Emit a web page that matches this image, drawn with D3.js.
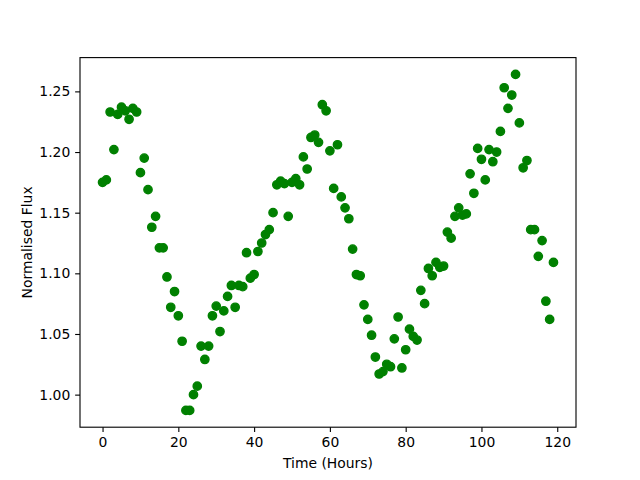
<!DOCTYPE html>
<html>
<head>
<meta charset="utf-8">
<script src="https://cdn.jsdelivr.net/npm/d3@7"></script>
<style>
  body { margin: 0; background: #fff; }
  text { font-family: "DejaVu Sans", sans-serif; }
</style>
</head>
<body>
<div id="vis"></div>
<script>
// data: hourly normalised flux readings
const hours = d3.range(0, 120);
const flux = [
  1.175, 1.177, 1.233, 1.202, 1.231, 1.237, 1.234, 1.227, 1.236, 1.233,
  1.183, 1.195, 1.169, 1.138, 1.147, 1.121, 1.121, 1.097, 1.072, 1.085,
  1.065, 1.044, 0.987, 0.987, 1.000, 1.007, 1.040, 1.029, 1.040, 1.065,
  1.073, 1.052, 1.069, 1.081, 1.090, 1.072, 1.090, 1.089, 1.117, 1.096,
  1.099, 1.118, 1.125, 1.132, 1.136, 1.150, 1.173, 1.176, 1.174, 1.147,
  1.175, 1.178, 1.173, 1.196, 1.186, 1.212, 1.214, 1.208, 1.239, 1.234,
  1.201, 1.170, 1.206, 1.163, 1.154, 1.145, 1.120, 1.099, 1.098, 1.074,
  1.062, 1.049, 1.031, 1.017, 1.019, 1.025, 1.023, 1.046, 1.064, 1.022,
  1.037, 1.054, 1.048, 1.045, 1.086, 1.075, 1.104, 1.098, 1.109, 1.105,
  1.106, 1.134, 1.129, 1.147, 1.154, 1.148, 1.149, 1.182, 1.166, 1.203,
  1.194, 1.177, 1.202, 1.192, 1.200, 1.217, 1.253, 1.236, 1.247, 1.264,
  1.224, 1.187, 1.193, 1.136, 1.136, 1.114, 1.127, 1.077, 1.062, 1.109
];
const xTicks = [0, 20, 40, 60, 80, 100, 120];
const yTicks = [1.00, 1.05, 1.10, 1.15, 1.20, 1.25];

// matplotlib-like figure layout
const margin = { top: 57.6, right: 64, bottom: 52.8, left: 80 };
const width = 640 - margin.left - margin.right;
const height = 480 - margin.top - margin.bottom;
const pt = 100 / 72;

const svg = d3.select("#vis")
  .append("svg")
    .attr("width", 640)
    .attr("height", 480)
  .append("g")
    .attr("transform", `translate(${margin.left}, ${margin.top})`);

// pad the data range by 5% like matplotlib autoscale
function padded(ext) {
  const p = (ext[1] - ext[0]) * 0.05;
  return [ext[0] - p, ext[1] + p];
}

const xScale = d3.scaleLinear()
  .domain(padded(d3.extent(hours)))
  .range([0, width]);
const yScale = d3.scaleLinear()
  .domain(padded(d3.extent(flux)))
  .range([height, 0]);

// points
svg.append("g")
  .selectAll("circle")
  .data(hours)
  .join("circle")
    .attr("cx", (d, i) => xScale(hours[i]))
    .attr("cy", (d, i) => yScale(flux[i]))
    .attr("r", 3 * pt)
    .attr("fill", "#008000")
    .attr("stroke", "#008000")
    .attr("stroke-width", 1 * pt);

// axes
const tickLen = 3.5 * pt;
const xAxis = svg.append("g")
  .attr("transform", `translate(0, ${height})`)
  .call(d3.axisBottom(xScale).tickValues(xTicks).tickFormat(d3.format("d"))
    .tickSizeInner(tickLen).tickSizeOuter(0).tickPadding(3.5 * pt));
const yAxis = svg.append("g")
  .call(d3.axisLeft(yScale).tickValues(yTicks).tickFormat(d3.format(".2f"))
    .tickSizeInner(tickLen).tickSizeOuter(0).tickPadding(3.5 * pt));

[xAxis, yAxis].forEach(a => {
  a.select(".domain").remove();
  a.selectAll("line").attr("stroke", "#000").attr("stroke-width", 0.8 * pt);
  a.selectAll("text")
    .attr("fill", "#000")
    .style("font-size", "13.9px")
    .style("font-family", "'DejaVu Sans', sans-serif");
});

// frame
svg.append("rect")
  .attr("width", width)
  .attr("height", height)
  .attr("fill", "none")
  .attr("stroke", "#000")
  .attr("stroke-width", 0.8 * pt);

// axis labels
svg.append("text")
  .attr("x", width / 2)
  .attr("y", height + 40.5)
  .attr("text-anchor", "middle")
  .style("font-size", "13.9px")
  .text("Time (Hours)");

svg.append("text")
  .attr("transform", `translate(${-48}, ${height / 2}) rotate(-90)`)
  .attr("text-anchor", "middle")
  .style("font-size", "13.9px")
  .text("Normalised Flux");
</script>
</body>
</html>
